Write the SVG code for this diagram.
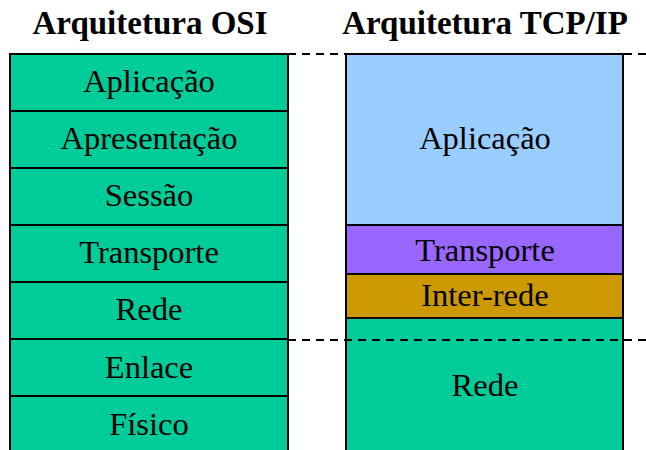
<svg xmlns="http://www.w3.org/2000/svg" width="646" height="450" viewBox="0 0 646 450">
<style>
.t{font-family:"Liberation Serif","Times New Roman",serif;font-size:32.5px;fill:#000;text-anchor:middle}
.h{font-family:"Liberation Serif","Times New Roman",serif;font-size:33px;font-weight:bold;fill:#000;text-anchor:middle}
.b{stroke:#000;stroke-width:2}
.g{fill:#00CC99}
.dash{stroke:#000;stroke-width:2;stroke-dasharray:8,6;fill:none}
</style>
<rect width="646" height="450" fill="#fff"/>
<text class="h" x="150" y="34">Arquitetura OSI</text>
<text class="h" x="485" y="34">Arquitetura TCP/IP</text>
<g id="osi-aplicacao"><rect class="b g" x="10" y="54" width="278" height="57"/><text class="t" x="149" y="92">Aplicação</text></g>
<g id="osi-apresentacao"><rect class="b g" x="10" y="111" width="278" height="57"/><text class="t" x="149" y="149">Apresentação</text></g>
<g id="osi-sessao"><rect class="b g" x="10" y="168" width="278" height="57"/><text class="t" x="149" y="206">Sessão</text></g>
<g id="osi-transporte"><rect class="b g" x="10" y="225" width="278" height="57"/><text class="t" x="149" y="263">Transporte</text></g>
<g id="osi-rede"><rect class="b g" x="10" y="282" width="278" height="57"/><text class="t" x="149" y="320">Rede</text></g>
<g id="osi-enlace"><rect class="b g" x="10" y="339" width="278" height="57"/><text class="t" x="149" y="378">Enlace</text></g>
<g id="osi-fisico"><rect class="b g" x="10" y="396" width="278" height="60"/><text class="t" x="149" y="435">Físico</text></g>
<g id="tcp-aplicacao"><rect class="b" fill="#99CCFF" x="346" y="54" width="277" height="171"/><text class="t" x="485" y="149">Aplicação</text></g>
<g id="tcp-transporte"><rect class="b" fill="#9966FF" x="346" y="225" width="277" height="49"/><text class="t" x="485" y="261">Transporte</text></g>
<g id="tcp-interrede"><rect class="b" fill="#CC9900" x="346" y="274" width="277" height="44"/><text class="t" x="485" y="306">Inter-rede</text></g>
<g id="tcp-rede"><rect class="b g" x="346" y="318" width="277" height="138"/><text class="t" x="485" y="396">Rede</text></g>
<g id="connectors">
<line class="dash" x1="288" y1="54" x2="646" y2="54"/>
<line class="dash" x1="288" y1="340" x2="646" y2="340"/>
</g>
</svg>
